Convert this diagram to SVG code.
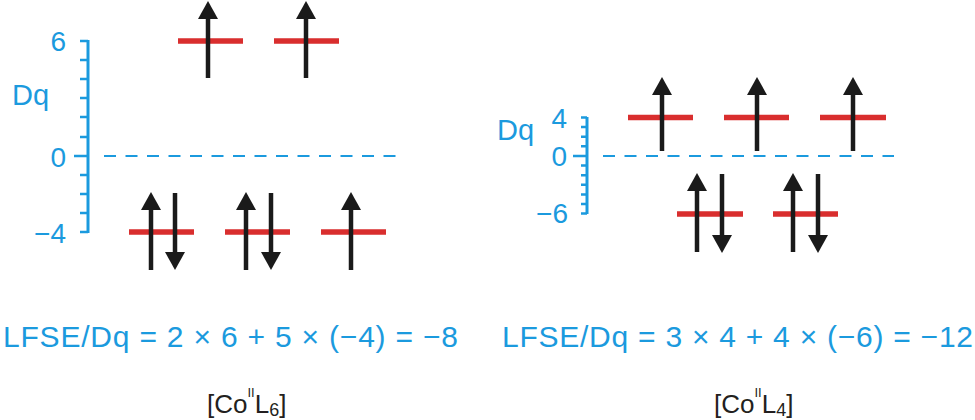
<svg xmlns="http://www.w3.org/2000/svg" width="975" height="420" viewBox="0 0 975 420">
<style>
.blue{font-family:"Liberation Sans",Arial,sans-serif;fill:#1b9ade;}
.blk{font-family:"Liberation Sans",Arial,sans-serif;fill:#231f20;}
.axis{stroke:#1b9ade;stroke-width:3;fill:none;}
.tick{stroke:#1b9ade;stroke-width:2.5;fill:none;}
.zero{stroke:#1b9ade;stroke-width:2.2;stroke-dasharray:12 9.5;fill:none;}
.lvl{stroke:#d92e2e;stroke-width:5.5;fill:none;}
.spin{stroke:#1a1a1a;stroke-width:4.5;fill:none;marker-end:url(#ah);}
</style>
<defs>
<marker id="ah" viewBox="0 0 18 20" refX="8" refY="10" markerWidth="18" markerHeight="20" markerUnits="userSpaceOnUse" orient="auto">
<path d="M0,0 L18,10 L0,20 Z" fill="#1a1a1a"/>
</marker>
</defs>
<rect width="975" height="420" fill="#ffffff"/>

<g id="left-axis">
<path class="axis" d="M88,40 V233"/>
<path class="tick" d="M80,41H88 M80,60H88 M80,79H88 M80,98H88 M80,117H88 M80,137H88 M74,156H88 M80,175H88 M80,194H88 M80,213H88 M80,232H88"/>
<text class="blue" x="66" y="51" font-size="28" text-anchor="end">6</text>
<text class="blue" x="12" y="105" font-size="29">Dq</text>
<text class="blue" x="66" y="167" font-size="28" text-anchor="end">0</text>
<text class="blue" x="66" y="243" font-size="28" text-anchor="end">−4</text>
<path class="zero" d="M104,156H396"/>
</g>

<g id="left-levels">
<path class="lvl" d="M178,41H243 M274,41H339 M129,232H194 M225,232H290 M321,232H386"/>
</g>

<g id="right-axis">
<path class="axis" d="M587,117V214"/>
<path class="tick" d="M581,117.5H587 M581,127H587 M581,136.7H587 M581,146.3H587 M573,156H587 M581,165.6H587 M581,175.2H587 M581,184.8H587 M581,194.4H587 M581,204H587 M581,213.5H587"/>
<text class="blue" x="497" y="140" font-size="29">Dq</text>
<text class="blue" x="567" y="128" font-size="28" text-anchor="end">4</text>
<text class="blue" x="567" y="166" font-size="28" text-anchor="end">0</text>
<text class="blue" x="568" y="223" font-size="28" text-anchor="end">−6</text>
<path class="zero" d="M603,156H894"/>
</g>

<g id="right-levels">
<path class="lvl" d="M628,117.5H693 M724,117.5H789 M820,117.5H886 M677,214H743 M773,214H838"/>
</g>

<g id="connectors">
<line class="spin" x1="208" y1="78" x2="208" y2="11"/>
<line class="spin" x1="306" y1="78" x2="306" y2="11"/>
<line class="spin" x1="151" y1="270" x2="151" y2="202"/>
<line class="spin" x1="175" y1="193" x2="175" y2="260"/>
<line class="spin" x1="246" y1="270" x2="246" y2="202"/>
<line class="spin" x1="271" y1="193" x2="271" y2="260"/>
<line class="spin" x1="351" y1="270" x2="351" y2="202"/>
<line class="spin" x1="662" y1="151" x2="662" y2="87"/>
<line class="spin" x1="757" y1="151" x2="757" y2="87"/>
<line class="spin" x1="853" y1="151" x2="853" y2="87"/>
<line class="spin" x1="697" y1="252" x2="697" y2="183"/>
<line class="spin" x1="722" y1="174" x2="722" y2="243"/>
<line class="spin" x1="793" y1="252" x2="793" y2="183"/>
<line class="spin" x1="818" y1="174" x2="818" y2="243"/>
</g>

<g id="captions">
<text class="blue" x="3" y="347" font-size="30" textLength="455" lengthAdjust="spacing">LFSE/Dq = 2 × 6 + 5 × (−4) = −8</text>
<text class="blue" x="502" y="347" font-size="30" textLength="471" lengthAdjust="spacing">LFSE/Dq = 3 × 4 + 4 × (−6) = −12</text>
<text class="blk" x="207" y="413" font-size="26">[Co<tspan font-size="13" dy="-16">II</tspan><tspan dy="16">L</tspan><tspan font-size="18" dy="3">6</tspan><tspan dy="-3">]</tspan></text>
<text class="blk" x="714" y="413" font-size="26">[Co<tspan font-size="13" dy="-16">II</tspan><tspan dy="16">L</tspan><tspan font-size="18" dy="3">4</tspan><tspan dy="-3">]</tspan></text>
</g>
</svg>
